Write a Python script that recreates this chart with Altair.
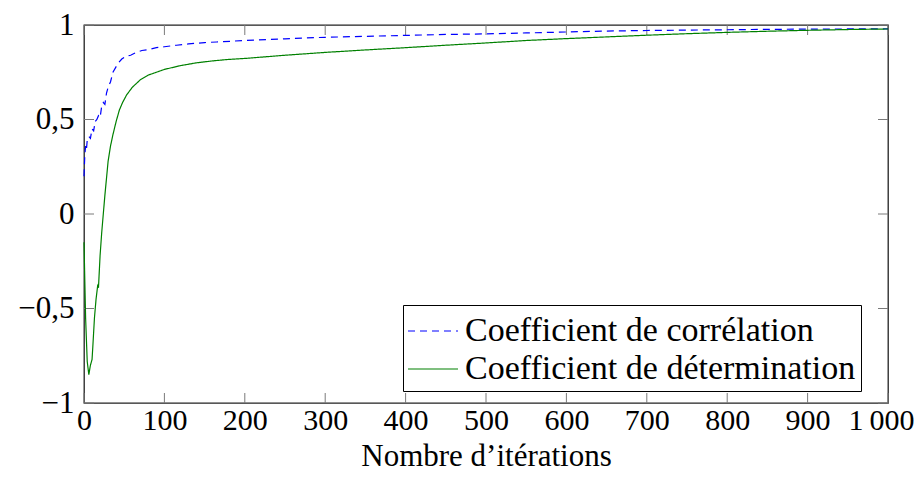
import altair as alt
import pandas as pd

# Coefficient de corrélation (blue, dashed)
corr_iter = [0, 1, 2, 3, 4, 6, 8, 10, 12, 14, 16, 18, 20, 22, 24, 26, 28, 30, 33, 36,
             40, 43, 47, 52, 58, 65, 72, 80, 90, 100, 115, 130, 150, 165, 200, 250,
             300, 350, 400, 450, 500, 550, 600, 650, 700, 750, 800, 850, 900, 950, 1000]
corr_vals = [0.20, 0.31, 0.36, 0.34, 0.39, 0.41, 0.40, 0.45, 0.44, 0.49, 0.50, 0.52,
             0.51, 0.57, 0.59, 0.58, 0.64, 0.67, 0.70, 0.75, 0.78, 0.80, 0.82, 0.835,
             0.84, 0.855, 0.865, 0.87, 0.88, 0.885, 0.893, 0.90, 0.907, 0.91, 0.918,
             0.927, 0.935, 0.94, 0.945, 0.95, 0.953, 0.958, 0.963, 0.968, 0.971, 0.973,
             0.975, 0.977, 0.978, 0.979, 0.98]

# Coefficient de détermination (green, solid)
det_iter = [0, 2, 4, 6, 8, 10, 11, 13, 15, 17, 18, 20, 22, 24, 26, 28, 30, 33, 36, 40,
            44, 48, 53, 60, 70, 80, 90, 100, 120, 140, 160, 180, 200, 250, 300, 350,
            400, 450, 500, 550, 600, 650, 700, 750, 800, 850, 900, 950, 1000]
det_vals = [-0.15, -0.55, -0.78, -0.85, -0.80, -0.77, -0.70, -0.55, -0.45, -0.38, -0.39,
            -0.22, -0.10, 0.0, 0.10, 0.19, 0.28, 0.36, 0.42, 0.49, 0.55, 0.59, 0.63,
            0.67, 0.71, 0.735, 0.75, 0.765, 0.785, 0.80, 0.81, 0.818, 0.823, 0.84,
            0.855, 0.868, 0.88, 0.893, 0.905, 0.918, 0.928, 0.937, 0.946, 0.954,
            0.961, 0.967, 0.972, 0.976, 0.979]

series_names = ["Coefficient de corrélation", "Coefficient de détermination"]
series_colors = ["#0000ff", "#008000"]
series_dash = [[7, 5], [1, 0]]

x_ticks = [0, 100, 200, 300, 400, 500, 600, 700, 800, 900, 1000]
y_ticks = [-1, -0.5, 0, 0.5, 1]

W, H = 804, 378
FONT = "Liberation Serif"

df = pd.concat([
    pd.DataFrame({"iter": corr_iter, "val": corr_vals, "serie": series_names[0]}),
    pd.DataFrame({"iter": det_iter, "val": det_vals, "serie": series_names[1]}),
])

xscale = alt.Scale(domain=[0, 1000], nice=False, zero=False)
yscale = alt.Scale(domain=[-1, 1], nice=False, zero=False)

lines = alt.Chart(df).mark_line(strokeWidth=1.2).encode(
    x=alt.X("iter:Q", scale=xscale,
            axis=alt.Axis(values=x_ticks, format="d", ticks=False, domain=False, grid=False,
                          labelOverlap=False, labelFlush=False,
                          labelExpr="datum.value == 1000 ? '1\u2009000' : datum.label",
                          labelOffset={"condition": {"test": "datum.value == 1000", "value": -7},
                                       "value": 0},
                          labelFontSize=30, labelPadding=2, labelColor="#000",
                          title="Nombre d’itérations", titleFontSize=31, titleFontWeight="normal",
                          titleBaseline="alphabetic", titleY=62, titleColor="#000")),
    y=alt.Y("val:Q", scale=yscale,
            axis=alt.Axis(values=y_ticks, format="~g", ticks=False, domain=False, grid=False,
                          labelOverlap=False, labelFlush=False,
                          labelExpr="replace(datum.label, '.', ',')",
                          labelFontSize=31, labelPadding=10, labelColor="#000", title=None)),
    color=alt.Color("serie:N", scale=alt.Scale(domain=series_names, range=series_colors),
                    legend=alt.Legend(title=None)),
    strokeDash=alt.StrokeDash("serie:N", scale=alt.Scale(domain=series_names, range=series_dash),
                              legend=alt.Legend(title=None)),
)

tick_df_x = pd.DataFrame({"t": x_ticks})
tick_df_y = pd.DataFrame({"t": y_ticks})
tcol = "#7a7a7a"

bx = alt.Chart(tick_df_x).mark_rule(color=tcol, strokeWidth=1).encode(
    x=alt.X("t:Q", scale=xscale), y=alt.value(H), y2=alt.value(H - 10))
tx = alt.Chart(tick_df_x).mark_rule(color=tcol, strokeWidth=1).encode(
    x=alt.X("t:Q", scale=xscale), y=alt.value(0), y2=alt.value(10))
ly = alt.Chart(tick_df_y).mark_rule(color=tcol, strokeWidth=1).encode(
    y=alt.Y("t:Q", scale=yscale), x=alt.value(0), x2=alt.value(10))
ry = alt.Chart(tick_df_y).mark_rule(color=tcol, strokeWidth=1).encode(
    y=alt.Y("t:Q", scale=yscale), x=alt.value(W), x2=alt.value(W - 10))

chart = alt.layer(bx, tx, ly, ry, lines).properties(
    width=W, height=H,
    autosize=alt.AutoSizeParams(type="none"),
    padding={"left": 76, "top": 17, "right": 27, "bottom": 69},
).configure(font=FONT).configure_view(
    stroke="#222", strokeWidth=1.3
).configure_legend(
    orient="none", legendX=319, legendY=280,
    strokeColor="#000", fillColor="#fff", padding=5, cornerRadius=0,
    labelFont=FONT, labelFontSize=34, labelColor="#000", labelLimit=0,
    symbolType="M-1.25,0H1.25", symbolSize=1600, symbolStrokeWidth=1.2,
    symbolOffset=4, rowPadding=0, labelOffset=11,
)

chart.save("out.html", embed_options={"renderer": "svg", "actions": False})
